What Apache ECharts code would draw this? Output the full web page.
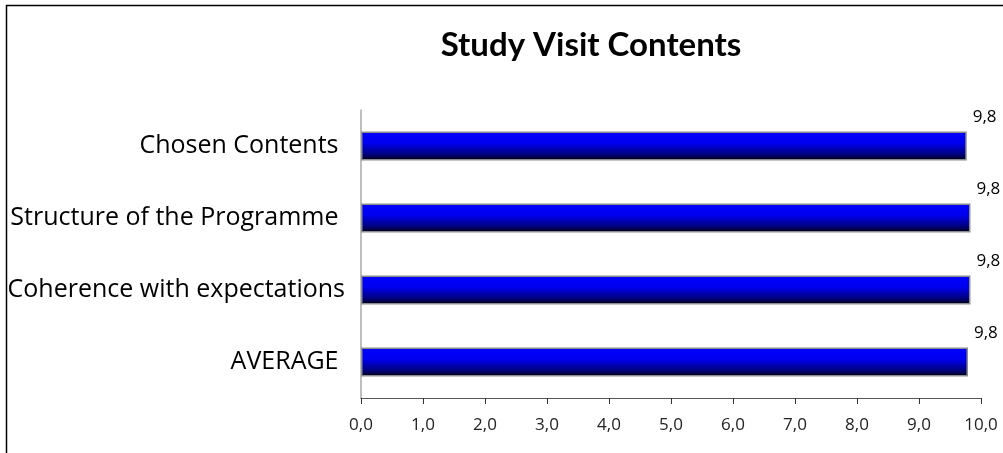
<!DOCTYPE html>
<html>
<head>
<meta charset="utf-8">
<script src="https://cdn.jsdelivr.net/npm/echarts@6/dist/echarts.min.js"></script>
<style>html,body{margin:0;padding:0;background:#fff}#c{width:1003px;height:453px}</style>
</head>
<body>
<div id="c"></div>
<script>
var categories = ["Chosen Contents ", "Structure of the Programme ", "Coherence with expectations", "AVERAGE "];
var values = [9.77, 9.83, 9.83, 9.79];
var labelValues = ["9,8", "9,8", "9,8", "9,8"];
var xTicks = [0,1,2,3,4,5,6,7,8,9,10];

var chart = echarts.init(document.getElementById('c'), null, {renderer: 'canvas'});
chart.setOption({
  animation: false,
  backgroundColor: '#fff',
  title: {
    text: 'Study Visit Contents',
    left: 586, top: 24, textAlign: 'center',
    textStyle: {fontFamily: 'Lato', fontWeight: 'bold', fontSize: 33, color: '#000'}
  },
  graphic: [{
    type: 'rect', left: 4, top: 3,
    shape: {x: 0, y: 0, width: 1100, height: 600},
    style: {fill: 'none', stroke: '#000', lineWidth: 1.5}, silent: true, z: 100
  }],
  grid: {left: 361, right: 22, top: 110, bottom: 55, containLabel: false},
  xAxis: {
    type: 'value', min: 0, max: 10, interval: 1,
    axisLine: {show: true, lineStyle: {color: '#555', width: 1}},
    axisTick: {show: true, length: 6, lineStyle: {color: '#333'}},
    splitLine: {show: false},
    axisLabel: {
      margin: 19, fontFamily: 'Open Sans', fontSize: 17, color: '#222',
      formatter: function (v) { return v.toFixed(1).replace('.', ','); }
    }
  },
  yAxis: {
    type: 'category', data: categories, inverse: true,
    axisLine: {show: true, lineStyle: {color: '#aaa', width: 1.5}},
    axisTick: {show: false},
    axisLabel: {margin: 16, fontFamily: 'Open Sans', fontSize: 25, color: '#000'}
  },
  series: [{
    type: 'bar', data: values, barWidth: 29,
    itemStyle: {
      borderColor: '#8c8c8c', borderWidth: 1.5,
      color: new echarts.graphic.LinearGradient(0, 0, 0, 1, [
        {offset: 0, color: '#0000ff'},
        {offset: 0.4, color: '#0000f0'},
        {offset: 0.78, color: '#000080'},
        {offset: 1, color: '#000010'}
      ])
    },
    label: {
      show: true, position: 'right', offset: [1, -29],
      fontFamily: 'Open Sans', fontSize: 17, color: '#000',
      formatter: function (p) { return labelValues[p.dataIndex]; }
    }
  }]
});
</script>
</body>
</html>
